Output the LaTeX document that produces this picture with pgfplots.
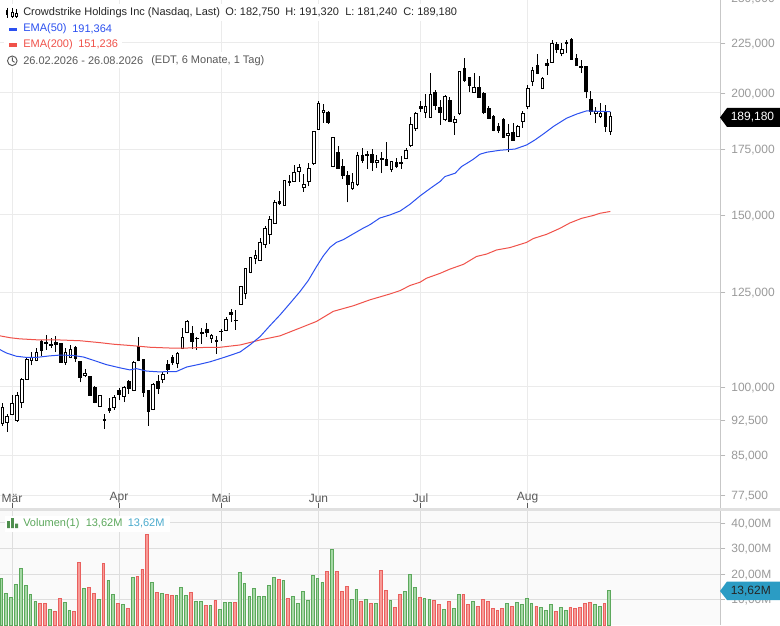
\documentclass[border=0pt]{standalone}
\usepackage{fontspec}
\setmainfont{Liberation Sans}
\usepackage{pgfplots}
\pgfplotsset{compat=1.18}
\definecolor{gridc}{HTML}{EBEBEB}
\definecolor{gridv}{HTML}{DEDEDE}
\definecolor{tickc}{HTML}{9A9A9A}
\definecolor{emablue}{HTML}{2B50F0}
\definecolor{emared}{HTML}{F0524A}
\definecolor{vgreenf}{HTML}{A5D8A5}
\definecolor{vgreenl}{HTML}{5CA85C}
\definecolor{vredf}{HTML}{F89B97}
\definecolor{vredl}{HTML}{E9605E}
\definecolor{tagblue}{HTML}{2B9CC4}
\newcommand\up[5]{%
  \addplot[black,line width=.58pt,forget plot] coordinates {(#1,#4)(#1,#3)};
  \pgfmathsetmacro\xa{#1-0.27}\pgfmathsetmacro\xb{#1+0.27}%
  \addplot[draw=black,fill=white,line width=.58pt,forget plot] coordinates {(\xa,#2)(\xb,#2)(\xb,#5)(\xa,#5)} -- cycle;}
\newcommand\dn[5]{%
  \addplot[black,line width=.58pt,forget plot] coordinates {(#1,#4)(#1,#3)};
  \pgfmathsetmacro\xa{#1-0.27}\pgfmathsetmacro\xb{#1+0.27}%
  \addplot[draw=black,fill=black,line width=.58pt,forget plot] coordinates {(\xa,#2)(\xb,#2)(\xb,#5)(\xa,#5)} -- cycle;}
\begin{document}
\begin{tikzpicture}[x=1pt,y=1pt]
\path[use as bounding box,fill=white] (0,0) rectangle (585,468.75);
\begin{axis}[name=main,at={(0pt,87.75pt)},anchor=south west,scale only axis,
  width=540.375pt,height=382.3pt,
  xmin=-0.473,xmax=147.66,ymin=75.18,ymax=250,ymode=log,
  axis line style={draw=none},
  xtick={2,24,45,65,86,108},xticklabels={Mär,Apr,Mai,Jun,Jul,Aug},
  ytick={77.5,85,92.5,100,125,150,175,200,225,250},
  yticklabels={{77,500},{85,000},{92,500},{100,000},{125,000},{150,000},{175,000},{200,000},{225,000},{250,000}},
  xtick pos=bottom,ytick pos=right,yticklabel pos=right,
  xtick align=inside,ytick align=outside,major tick length=3.6pt,
  x tick style={color=black!65,line width=.7pt},y tick style={color=tickc!70,line width=.6pt},
  grid=major,grid style={color=gridc,line width=.75pt},minor tick length=0pt,
  yticklabel style={font=\fontsize{9}{10}\selectfont,text=tickc,xshift=1pt,yshift=-.5pt},
  xticklabel style={font=\fontsize{9}{10}\selectfont,text=black!65,anchor=center,yshift=7.4pt},
]
\up{0}{91.8}{96.2}{91.2}{95.3}
\up{1}{92.0}{93.8}{90.0}{93.2}
\up{2}{93.8}{98.1}{93.5}{96.2}
\up{3}{92.4}{98.7}{92.1}{98.0}
\up{4}{96.4}{102.1}{95.2}{101.9}
\up{5}{101.8}{107.2}{101.7}{106.6}
\up{6}{106.5}{108.5}{105.2}{107.3}
\up{7}{106.5}{109.6}{106.2}{108.6}
\dn{8}{111.3}{111.7}{107.5}{109.0}
\dn{9}{111.2}{113.0}{109.2}{110.9}
\dn{10}{110.6}{112.2}{109.6}{110.4}
\dn{11}{111.0}{112.8}{108.7}{110.5}
\dn{12}{110.8}{111.0}{105.9}{106.0}
\up{13}{106.0}{109.6}{105.4}{108.5}
\up{14}{107.2}{110.4}{107.0}{109.2}
\dn{15}{109.8}{110.0}{106.0}{107.0}
\dn{16}{106.1}{106.2}{101.1}{102.2}
\up{17}{102.8}{104.3}{102.3}{103.3}
\dn{18}{102.6}{102.7}{97.9}{98.1}
\dn{19}{99.8}{100.1}{96.2}{96.4}
\up{20}{95.6}{98.2}{95.4}{98.0}
\dn{21}{92.6}{93.8}{90.6}{92.4}
\dn{22}{95.1}{97.5}{94.0}{94.7}
\up{23}{95.4}{98.1}{94.8}{97.5}
\dn{24}{99.2}{99.7}{96.9}{98.3}
\up{25}{97.7}{100.3}{96.5}{99.8}
\dn{26}{101.4}{101.6}{98.4}{99.6}
\up{27}{99.3}{106.2}{99.2}{106.0}
\dn{28}{110.0}{112.4}{106.2}{106.5}
\dn{29}{106.6}{106.8}{97.7}{98.7}
\dn{30}{99.2}{99.2}{91.3}{94.5}
\up{31}{94.8}{100.9}{94.7}{100.7}
\dn{32}{101.2}{102.9}{98.4}{99.6}
\up{33}{101.8}{103.7}{100.9}{102.9}
\dn{34}{105.5}{106.5}{103.1}{104.3}
\dn{35}{107.3}{107.9}{105.4}{106.0}
\up{36}{105.8}{108.7}{104.5}{108.3}
\up{37}{109.6}{114.8}{109.3}{112.4}
\up{38}{113.7}{117.1}{113.5}{116.8}
\dn{39}{113.5}{115.4}{109.3}{111.3}
\dn{40}{112.2}{112.6}{109.2}{112.1}
\dn{41}{113.8}{114.8}{110.7}{113.4}
\dn{42}{114.4}{116.2}{112.6}{113.7}
\up{43}{112.2}{113.2}{111.0}{112.9}
\dn{44}{111.7}{112.8}{108.1}{111.3}
\dn{45}{114.0}{114.7}{111.4}{113.9}
\up{46}{114.2}{117.9}{114.0}{117.3}
\dn{47}{119.1}{120.2}{116.6}{118.6}
\dn{48}{117.1}{120.0}{114.4}{117.0}
\up{49}{121.6}{126.8}{121.5}{126.6}
\up{50}{124.6}{132.3}{123.1}{132.1}
\up{51}{131.0}{135.8}{130.7}{135.6}
\up{52}{135.4}{138.2}{133.5}{136.4}
\up{53}{134.9}{142.0}{134.7}{140.6}
\up{54}{139.9}{146.0}{138.8}{145.2}
\up{55}{143.3}{149.5}{140.0}{148.5}
\up{56}{147.2}{155.4}{146.9}{154.6}
\dn{57}{154.8}{158.7}{153.6}{154.1}
\up{58}{153.4}{162.8}{153.2}{162.6}
\dn{59}{162.4}{164.7}{160.7}{162.1}
\up{60}{162.3}{168.7}{162.3}{165.9}
\up{61}{166.2}{169.2}{162.3}{167.9}
\up{62}{160.0}{165.2}{158.5}{161.3}
\up{63}{162.3}{169.5}{160.4}{167.5}
\up{64}{169.3}{182.7}{168.9}{182.7}
\up{65}{183.6}{196.3}{183.3}{195.2}
\up{66}{191.1}{194.9}{186.5}{192.0}
\dn{67}{191.1}{191.7}{185.8}{186.5}
\up{68}{168.1}{180.1}{167.8}{179.9}
\dn{69}{173.9}{176.5}{167.2}{167.5}
\dn{70}{168.3}{171.0}{163.2}{164.6}
\dn{71}{164.7}{166.4}{154.5}{161.1}
\up{72}{159.6}{165.5}{159.1}{162.0}
\up{73}{161.1}{174.0}{160.6}{172.7}
\dn{74}{172.7}{175.7}{169.6}{170.4}
\dn{75}{173.1}{174.4}{167.1}{172.8}
\dn{76}{173.1}{175.3}{166.5}{169.8}
\up{77}{169.8}{172.8}{167.5}{170.6}
\dn{78}{171.4}{174.0}{165.5}{171.0}
\dn{79}{171.0}{178.0}{168.4}{168.6}
\up{80}{167.1}{170.5}{165.9}{170.2}
\dn{81}{169.8}{171.4}{167.5}{168.1}
\dn{82}{169.8}{172.5}{167.2}{169.4}
\up{83}{171.4}{175.7}{171.1}{174.8}
\up{84}{176.9}{188.9}{176.2}{185.8}
\up{85}{184.0}{191.2}{183.0}{190.6}
\dn{86}{193.8}{196.2}{191.4}{192.8}
\up{87}{190.9}{199.4}{188.4}{193.8}
\up{88}{189.0}{209.5}{188.7}{199.4}
\dn{89}{200.4}{201.5}{192.1}{194.2}
\dn{90}{193.3}{196.8}{185.5}{190.9}
\up{91}{187.7}{198.8}{187.0}{198.5}
\dn{92}{196.6}{198.3}{186.6}{187.0}
\up{93}{186.7}{189.6}{181.2}{188.1}
\up{94}{190.5}{210.8}{189.9}{210.5}
\dn{95}{212.0}{217.1}{205.4}{206.2}
\dn{96}{207.3}{207.8}{200.2}{203.5}
\up{97}{200.2}{209.5}{199.9}{202.7}
\dn{98}{202.7}{208.2}{197.7}{198.1}
\dn{99}{199.9}{200.2}{190.3}{190.9}
\dn{100}{192.9}{193.9}{188.0}{188.3}
\dn{101}{189.4}{189.7}{182.7}{183.0}
\dn{102}{185.0}{186.2}{181.9}{183.0}
\dn{103}{188.1}{188.5}{179.7}{180.0}
\up{104}{180.9}{185.9}{174.2}{181.9}
\dn{105}{182.4}{186.2}{178.7}{179.0}
\up{106}{180.4}{185.3}{180.2}{185.0}
\up{107}{186.9}{191.7}{184.3}{190.6}
\up{108}{193.6}{203.9}{192.4}{202.3}
\up{109}{205.4}{212.4}{203.5}{210.8}
\dn{110}{213.6}{219.2}{209.0}{209.3}
\up{111}{202.3}{207.5}{202.0}{207.2}
\dn{112}{214.2}{216.8}{208.7}{213.6}
\up{113}{215.0}{226.7}{214.8}{224.9}
\dn{114}{224.0}{225.4}{219.7}{221.7}
\up{115}{219.5}{225.2}{218.0}{221.7}
\dn{116}{225.4}{226.3}{219.7}{225.0}
\dn{117}{226.7}{227.5}{216.3}{216.6}
\dn{118}{216.7}{219.2}{213.1}{213.5}
\dn{119}{213.1}{215.9}{209.5}{212.3}
\dn{120}{213.1}{213.1}{197.5}{200.9}
\dn{121}{197.1}{200.8}{189.9}{191.7}
\up{122}{190.6}{193.7}{186.2}{191.7}
\up{123}{189.1}{195.3}{188.4}{190.6}
\dn{124}{190.9}{194.5}{182.6}{185.0}
\up{125}{182.75}{191.32}{181.24}{189.18}
% EMA 200
\addplot[emared,line width=.75pt] coordinates {
(-0.5,112.8)(1.6,112.3)(3.6,112.0)(7.8,111.7)(11.9,111.7)(16,111.5)(20.1,111.0)(22.8,110.6)(26.9,110.2)(30.4,109.8)(34.5,109.6)(37.9,109.6)(42.7,109.8)
(44.8,109.8)(48.9,110.4)(53,111.7)(57.1,112.8)(61.2,114.9)(64.6,116.7)(68.05,119.5)(72.2,121.1)(75.6,122.8)(79.7,124.5)
(81.8,125.5)(83.8,127.0)(85.9,128.0)(87.2,129.2)(90,130.7)(92,132.0)(94.8,133.5)(97.5,136.0)(99.6,136.8)(101.6,138.1)(104.4,138.9)(107.8,140.6)(109.2,141.9)(111.9,143.3)(114.6,145.3)(116.7,147.2)(119.1,148.8)(121.5,149.8)(122.9,150.6)(125,151.236)};
% EMA 50
\addplot[emablue,line width=.75pt] coordinates {
(-0.5,109.2)(0.9,108.3)(2.9,107.5)(5,107.2)(7,107.2)(9.8,107.6)(11.9,107.8)(14.6,107.7)(16.7,107.3)(18.7,106.5)(21.4,105.4)(24.2,104.6)(26.2,104.1)(27.6,104.4)(29.7,103.8)(32.4,103.6)(34.1,103.7)(35.8,103.7)(37.9,104.8)(40.6,105.5)(42.7,106.1)
(44.8,106.9)(46.8,107.7)(48.9,108.6)(50.9,110.4)(53,112.6)(55,115.5)(57.1,118.5)(59.1,121.7)(61.2,125.2)(62.9,128.5)(64.6,132.8)(66,136.2)(67.4,139.0)(68.7,140.6)(70.1,141.5)(72.2,143.5)(74.2,145.4)(75.6,146.6)(77.6,148.9)(79.7,150.0)
(81.8,151.4)(83.8,153.8)(85.9,156.9)(88,159.7)(90,162.3)(91,164.2)(93.1,165.5)(94.4,168.1)(95.5,169.4)(96.8,171.0)(98.2,173.1)(99.6,173.9)(102.3,174.7)(105.4,175.2)(107.8,176.9)(109.5,179.0)(111.2,181.5)(113.3,184.8)(116,188.4)(118.1,190.3)(120.1,191.7)(122.9,191.5)(125,191.364)};
\end{axis}
\begin{axis}[at={(0pt,0pt)},anchor=south west,scale only axis,
  width=540.375pt,height=85.5pt,
  xmin=-0.473,xmax=147.66,ymin=0,ymax=44.7,
  axis line style={draw=none},
  axis background/.style={fill=black!2},
  xtick={2,24,45,65,86,108},xticklabels={},
  ytick={10,20,30,40},yticklabels={{10,00M},{20,00M},{30,00M},{40,00M}},
  xtick pos=bottom,ytick pos=right,yticklabel pos=right,
  major tick length=3.6pt,ytick align=outside,x tick style={draw=none},
  y tick style={color=tickc!70,line width=.6pt},
  grid=major,grid style={color=gridv,line width=.75pt},
  yticklabel style={font=\fontsize{9}{10}\selectfont,text=tickc,xshift=1pt,yshift=-.5pt},
  ybar,bar width=2.1pt,bar shift=-0.75pt,
]
\addplot[draw=vgreenl,fill=vgreenf,line width=.6pt] coordinates {
(0,18.3)(1,12.4)(2,10.8)(3,15.9)(4,22.2)(5,15.5)(6,12.0)(7,9.2)(10,6.0)(13,8.8)(14,5.6)(17,14.3)(20,10.0)(22,17.5)(23,12.0)(25,8.0)(27,18.7)(31,16.7)(33,12.4)(36,11.6)(37,14.7)(38,11.6)(40,9.2)(41,9.2)(43,7.6)(45,6.0)(46,8.8)(47,8.8)(49,20.7)(50,16.3)(51,11.2)(52,14.3)(53,11.2)(54,11.2)(55,15.5)(56,18.7)(58,17.5)(60,11.2)(61,8.4)(62,13.1)(63,9.6)
(64,19.5)(65,18.3)(66,16.7)(68,29.75)(72,10.0)(73,13.9)(75,10.0)(77,8.4)(80,9.6)(83,13.1)(84,19.9)(85,14.7)(87,10.4)(88,10.0)(91,6.0)(93,6.4)(94,12.0)(97,9.2)(104,8.4)(106,8.8)(107,8.0)(108,10.4)(109,8.4)(111,6.8)(112,5.6)(113,8.0)(115,6.8)(116,5.6)(122,8.0)(123,7.2)(125,13.62)};
\addplot[draw=vredl,fill=vredf,line width=.6pt] coordinates {
(8,8.4)(9,8.4)(11,5.2)(12,10.4)(15,5.2)(16,24.6)(18,14.7)(19,12.4)(21,24.2)(24,8.4)(26,6.4)(28,19.1)(29,21.8)(30,35.68)(32,12.8)(34,12.0)(35,11.6)(39,12.8)(42,7.6)(44,9.6)(48,8.8)(57,17.9)(59,10.4)
(67,21.0)(69,21.0)(70,13.1)(71,15.1)(74,9.2)(76,8.4)(78,21.4)(79,13.5)(81,6.8)(82,12.0)(86,10.8)(89,9.6)(90,8.0)(92,9.2)(95,12.0)(96,8.0)(98,7.2)(99,10.0)(100,9.2)(101,6.4)(102,5.6)(103,6.4)(105,7.2)(110,7.2)(114,5.2)(117,6.8)(118,6.4)(119,6.8)(120,8.4)(121,8.8)(124,8.4)};
\end{axis}
\begin{scope}[x=.75pt,y=-.75pt,shift={(0pt,468.75pt)}]
\def\tf{\fontsize{9}{10}\selectfont}
\def\lf{\fontsize{8.25}{10}\selectfont}
\fill[black!12] (0,508) rectangle (780,511);
\draw[black!22,line width=.75pt] (720.5,0) -- (720.5,508);
\draw[black!22,line width=.75pt] (720.5,511) -- (720.5,625);
% price tag
\fill[black] (720,117.5) -- (727,108) -- (780,108) -- (780,127) -- (727,127) -- cycle;
\node[anchor=west,inner sep=0,text=white,font=\tf] at (730.5,117.5) {189,180};
\fill[tagblue] (720,591) -- (727,581.5) -- (780,581.5) -- (780,600) -- (727,600) -- cycle;
\node[anchor=west,inner sep=0,text=black!85,font=\tf] at (730.5,591) {13,62M};
% legend
\fill[white] (4,4) rectangle (463,21);
\fill[white] (4,21) rectangle (122,52);
\fill[white] (4,52) rectangle (270,68);
\node[anchor=west,inner sep=0,font=\lf,text=black!85] at (23,12.7) {Crowdstrike Holdings Inc (Nasdaq, Last)};
\node[anchor=west,inner sep=0,font=\lf,text=black!85] at (225,12.7) {O: 182,750};
\node[anchor=west,inner sep=0,font=\lf,text=black!85] at (285,12.7) {H: 191,320};
\node[anchor=west,inner sep=0,font=\lf,text=black!85] at (345,12.7) {L: 181,240};
\node[anchor=west,inner sep=0,font=\lf,text=black!85] at (403,12.7) {C: 189,180};
\draw[black,line width=.6pt] (7,8) -- (7,18) (12,8) -- (12,18) (16.5,9) -- (16.5,18);
\fill[black] (5.7,10.5) rectangle (8.3,15);
\fill[white,draw=black,line width=.5pt] (10.9,12.5) rectangle (13.1,16);
\fill[white,draw=black,line width=.5pt] (15.4,13) rectangle (17.6,16.5);
\fill[emablue] (9,27.7) rectangle (16.7,31);
\node[anchor=west,inner sep=0,font=\lf,text=emablue] at (23,29) {EMA(50)};
\node[anchor=west,inner sep=0,font=\lf,text=emablue] at (72,29) {191,364};
\fill[emared] (9,43.3) rectangle (16.7,46.7);
\node[anchor=west,inner sep=0,font=\lf,text=emared] at (23,44.5) {EMA(200)};
\node[anchor=west,inner sep=0,font=\lf,text=emared] at (78,44.5) {151,236};
\draw[black!65,line width=.7pt] (12.3,60.8) circle (4.8) (12.3,57.5) -- (12.3,60.8) -- (14.6,62.3);
\node[anchor=west,inner sep=0,font=\lf,text=black!65] at (23,60.7) {26.02.2026 - 26.08.2026};
\node[anchor=west,inner sep=0,font=\lf,text=black!65] at (151,60.7) {(EDT, 6 Monate, 1 Tag)};
% volume legend
\fill[white] (5,516) rectangle (170,532);
\fill[vgreenl!85!black] (7,521) rectangle (9.8,528) (11,518) rectangle (13.8,528) (15,523.5) rectangle (18,528);
\node[anchor=west,inner sep=0,font=\lf,text=vgreenl] at (23,523.5) {Volumen(1)};
\node[anchor=west,inner sep=0,font=\lf,text=vgreenl] at (85.5,523.5) {13,62M};
\node[anchor=west,inner sep=0,font=\lf,text=tagblue!85] at (127.5,523.5) {13,62M};
\end{scope}
\end{tikzpicture}
\end{document}
